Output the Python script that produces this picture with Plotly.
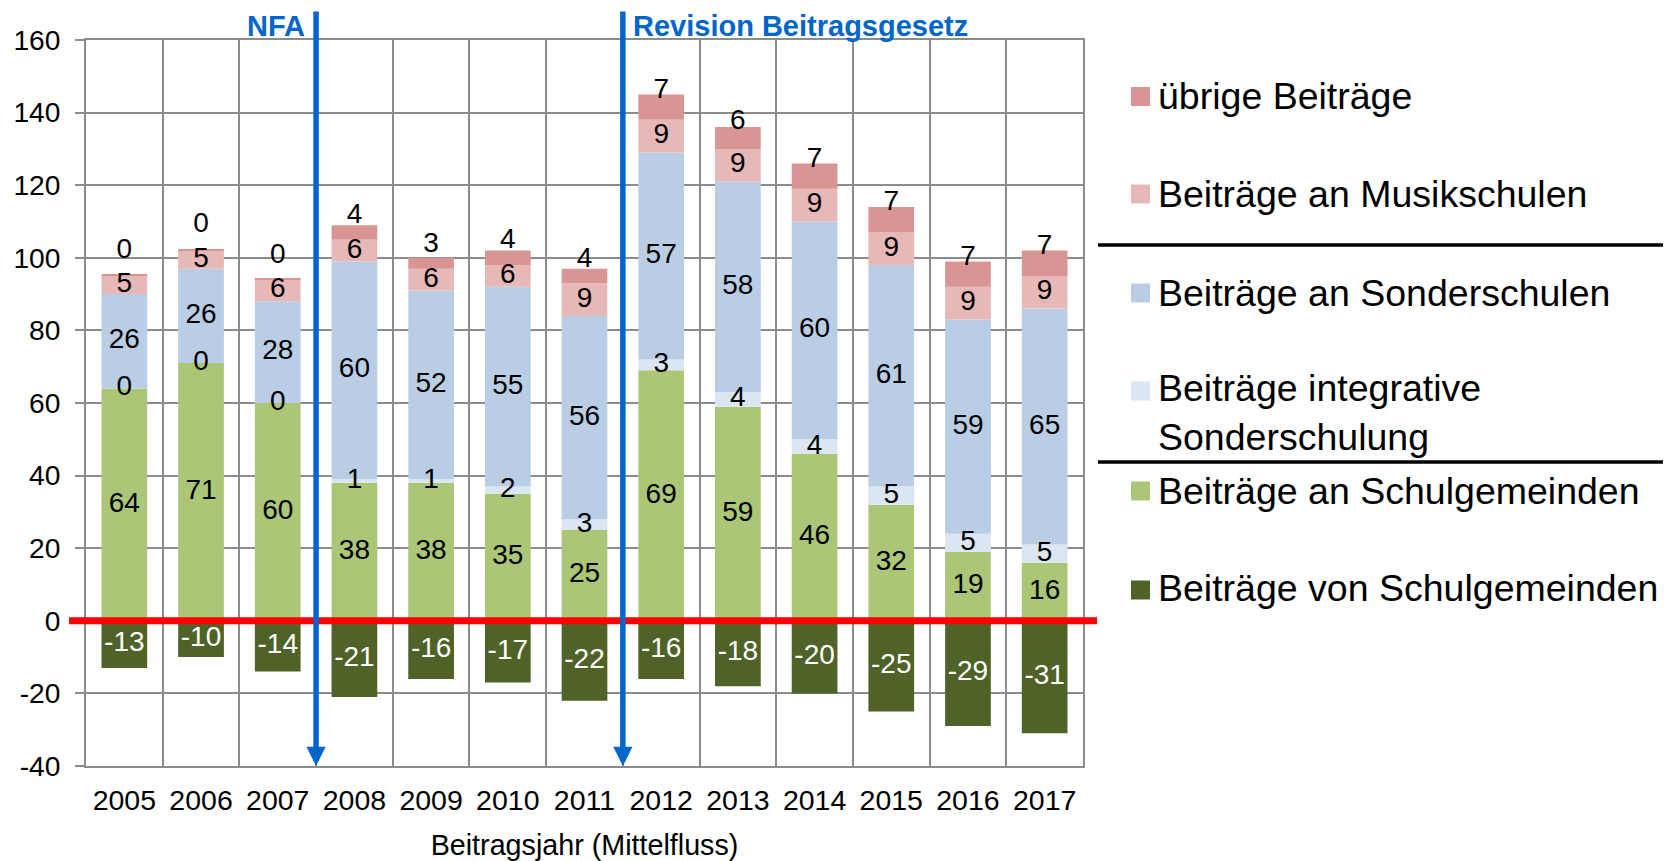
import plotly.graph_objects as go

# ---------------- data ----------------
years = ['2005', '2006', '2007', '2008', '2009', '2010', '2011',
         '2012', '2013', '2014', '2015', '2016', '2017']
von_schulgemeinden = [-13, -10, -14, -21, -16, -17, -22, -16, -18, -20, -25, -29, -31]
an_schulgemeinden = [64, 71, 60, 38, 38, 35, 25, 69, 59, 46, 32, 19, 16]
integrative = [0, 0, 0, 1, 1, 2, 3, 3, 4, 4, 5, 5, 5]
sonderschulen = [26, 26, 28, 60, 52, 55, 56, 57, 58, 60, 61, 59, 65]
musikschulen = [5, 5, 6, 6, 6, 6, 9, 9, 9, 9, 9, 9, 9]
uebrige = [0.4, 0.2, 0.4, 4, 3, 4, 4, 7, 6, 7, 7, 7, 7]

y_tickvals = [-40, -20, 0, 20, 40, 60, 80, 100, 120, 140, 160]
y_ticktext = ['-40', '-20', '0', '20', '40', '60', '80', '100', '120', '140', '160']

series_names = ['Beiträge von Schulgemeinden', 'Beiträge an Schulgemeinden',
                'Beiträge integrative<br>Sonderschulung', 'Beiträge an Sonderschulen',
                'Beiträge an Musikschulen', 'übrige Beiträge']
series_colors = ['#4F6228', '#ABC676', '#DCE6F2', '#B9CDE5', '#E6B9B8', '#D99594']

x_title = 'Beitragsjahr (Mittelfluss)'
event_labels = ['NFA', 'Revision Beitragsgesetz']
event_positions = [2.5, 6.5]   # category boundaries (2007|2008, 2011|2012)

# ---------------- layout constants ----------------
OFF = 8                                  # page body margin of the html page
PAGE_W, PAGE_H = 1671, 861
W, H = PAGE_W - OFF, PAGE_H - OFF
PL, PR, PT, PB = 86, 1083, 40, 766      # plot area in page pixels
FONT = 'Liberation Sans, Arial, Helvetica, sans-serif'
GRID = '#8C8C8C'
BLUE = '#0066CC'


def px_x(px):
    return (px - PL) / (PR - PL)


def px_y(py):
    return (PB - py) / (PB - PT)


series_values = [von_schulgemeinden, an_schulgemeinden, integrative,
                 sonderschulen, musikschulen, uebrige]

fig = go.Figure()
for name, vals, col in zip(series_names, series_values, series_colors):
    fig.add_trace(go.Bar(x=years, y=vals, name=name.replace('<br>', ' '),
                         marker=dict(color=col, line=dict(width=0)),
                         showlegend=False, hoverinfo='x+y+name'))

# ---------------- data labels (centred in segments) ----------------
lab_x, lab_y, lab_t, lab_c = [], [], [], []
for i, yr in enumerate(years):
    base = 0.0
    neg = von_schulgemeinden[i]
    lab_x.append(yr); lab_y.append(neg / 2); lab_t.append(str(int(round(neg)))); lab_c.append('white')
    centers = []
    for vals in series_values[1:]:
        v = vals[i]
        centers.append(base + v / 2)
        base += v
    for k, vals in enumerate(series_values[1:5]):
        lab_x.append(yr); lab_y.append(centers[k]); lab_t.append(str(int(round(vals[i])))); lab_c.append('black')
    # top label pushed clear of the label below it
    top_y = max(centers[4] + 4.5, centers[3] + 9.5)
    lab_x.append(yr); lab_y.append(top_y); lab_t.append(str(int(round(uebrige[i])))); lab_c.append('black')

fig.add_trace(go.Scatter(x=lab_x, y=lab_y, text=lab_t, mode='text',
                         textposition='middle center',
                         textfont=dict(family=FONT, size=28, color=lab_c),
                         showlegend=False, hoverinfo='skip', cliponaxis=False))

fig.update_layout(
    width=W, height=H,
    margin=dict(l=PL - OFF, r=PAGE_W - PR, t=PT - OFF, b=PAGE_H - PB, autoexpand=False),
    plot_bgcolor='white', paper_bgcolor='white',
    barmode='relative', bargap=0.404,
    showlegend=False,
    font=dict(family=FONT, size=28, color='black'),
)

fig.update_xaxes(
    type='category', range=[-0.5, len(years) - 0.5],
    tickson='boundaries', ticks='', showgrid=True, gridcolor=GRID, gridwidth=1.8,
    showline=True, linecolor=GRID, linewidth=1.8, mirror=True,
    tickfont=dict(size=28.5, color='black'), ticklabelstandoff=8,
    title=dict(text=x_title, font=dict(size=28.7, color='black'), standoff=21),
    automargin=False,
)
fig.update_yaxes(
    range=[-40, 160], tickvals=y_tickvals, ticktext=y_ticktext,
    ticks='outside', ticklen=9, tickcolor=GRID, tickwidth=1.8,
    showgrid=True, gridcolor=GRID, gridwidth=1.8, zeroline=False,
    showline=True, linecolor=GRID, linewidth=1.8, mirror=True,
    tickfont=dict(size=28.2, color='black'), ticklabelstandoff=9,
    automargin=False,
)

# red zero line
fig.add_shape(type='line', xref='paper', yref='y', x0=px_x(69), x1=px_x(1097), y0=0, y1=0,
              line=dict(color='#FF0000', width=7))

# blue event arrows + labels
top_val = -40 + px_y(10) * 200
for pos, lab, side in zip(event_positions, event_labels, ['right', 'left']):
    fig.add_annotation(x=pos, y=-40, xref='x', yref='y', ax=pos, ay=top_val,
                       axref='x', ayref='y', text='', showarrow=True,
                       arrowhead=2, arrowsize=0.7, arrowwidth=5.5, arrowcolor=BLUE)
    fig.add_annotation(x=pos, y=1, xref='x', yref='paper', text='<b>%s</b>' % lab,
                       showarrow=False, xanchor=side, yanchor='middle',
                       xshift=-9 if side == 'right' else 8, yshift=14,
                       font=dict(family=FONT, size=29, color=BLUE))

# ---------------- manual legend ----------------
legend_rows = [  # (series index, text centre px, swatch centre px)
    (5, 96, 96.5), (4, 194, 194), (3, 293, 293), (2, 412, 391), (1, 491, 491), (0, 588, 590)
]
for idx, ty, sy in legend_rows:
    fig.add_shape(type='rect', xref='paper', yref='paper',
                  x0=px_x(1131), x1=px_x(1150), y0=px_y(sy + 9.5), y1=px_y(sy - 9.5),
                  fillcolor=series_colors[idx], line=dict(width=0))
    fig.add_annotation(x=px_x(1156), y=px_y(ty), xref='paper', yref='paper',
                       text=series_names[idx], showarrow=False, xanchor='left',
                       yanchor='middle', align='left',
                       font=dict(family=FONT, size=37.5, color='black'))
for ly in [245, 462]:
    fig.add_shape(type='line', xref='paper', yref='paper', x0=px_x(1098), x1=px_x(PAGE_W),
                  y0=px_y(ly), y1=px_y(ly), line=dict(color='black', width=3.5))

fig.write_html('out.html')
